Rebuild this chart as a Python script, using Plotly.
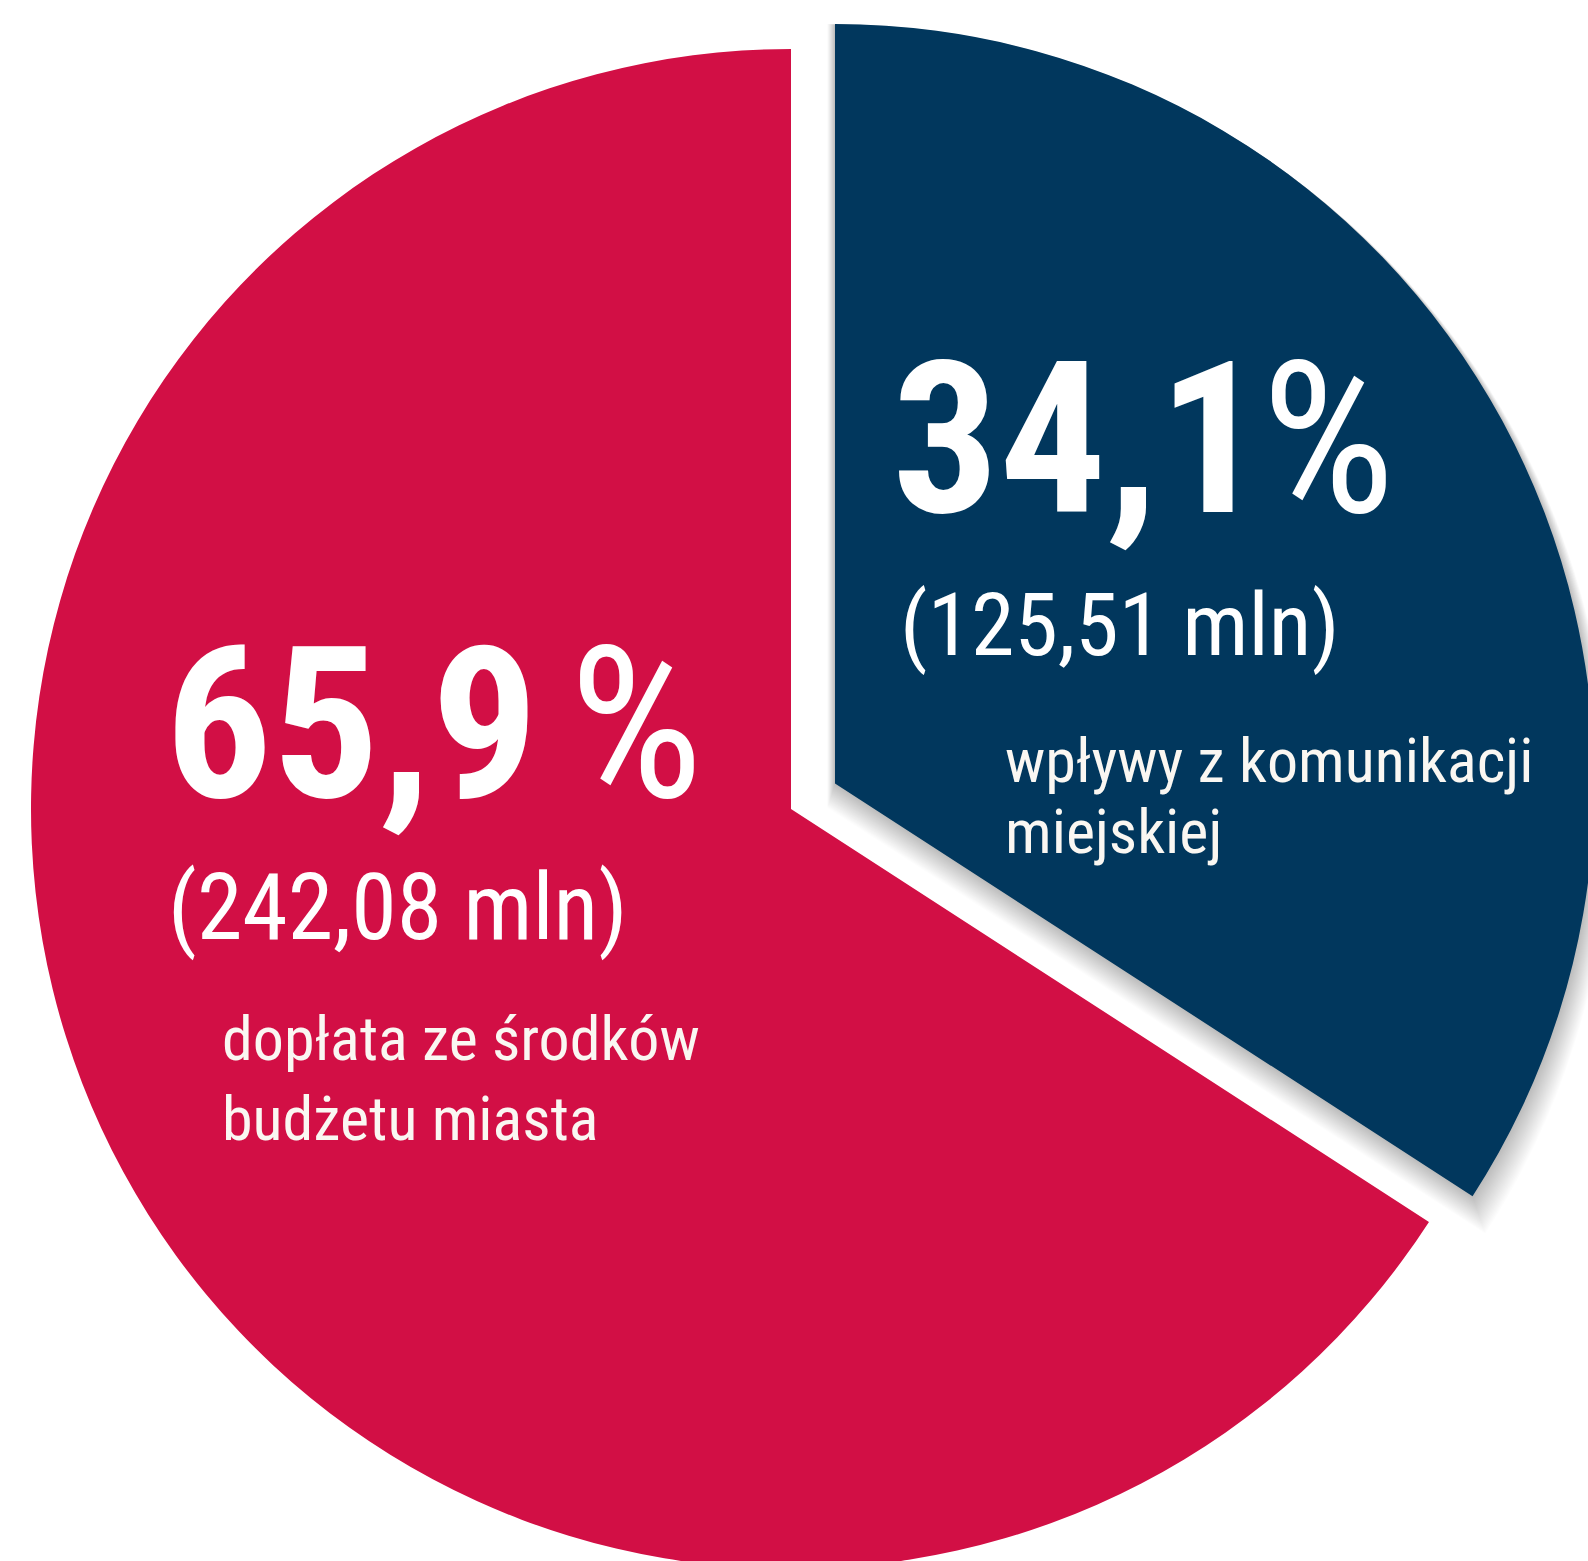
import plotly.graph_objects as go

# ---------------- data ----------------
categories = ["wpływy z komunikacji miejskiej", "dopłata ze środków budżetu miasta"]
values_mln = [125.51, 242.08]
pct_labels = ["34,1", "65,9"]
amount_labels = ["(125,51 mln)", "(242,08 mln)"]
desc_lines = [["wpływy z komunikacji", "miejskiej"], ["dopłata ze środków", "budżetu miasta"]]

# ---------------- styling / layout ----------------
NAVY = "#01375D"
RED = "#D20F45"
CLEAR = "rgba(0,0,0,0)"
TEXT_W = "#FFFFFF"
TEXT_S = "#FAF7F2"
FONT = "Roboto Condensed, Liberation Sans Narrow, DejaVu Sans Condensed, Roboto, sans-serif"

W, H = 1650, 1620          # figure canvas (page crops it to the window)
R = 760                    # pie radius in px
RED_C = (791, 809)         # centre of the main pie
NAVY_C = (835, 783.5)      # centre of the pulled-out slice


def dom(cx, cy, r):
    return dict(x=[(cx - r) / W, (cx + r) / W],
                y=[1 - (cy + r) / H, 1 - (cy - r) / H])


def pie(colors, cx, cy, r):
    return go.Pie(labels=categories, values=values_mln, sort=False,
                  direction="clockwise", rotation=0, textinfo="none",
                  hoverinfo="skip", showlegend=False,
                  marker=dict(colors=colors, line=dict(width=0)),
                  domain=dom(cx, cy, r))


fig = go.Figure()

# soft shadow behind the pulled-out slice
for k in range(1, 23):
    fig.add_trace(pie(["rgba(0,0,0,0.010)", CLEAR],
                      NAVY_C[0] - 0.35 * k, NAVY_C[1] + 1.1 * k, R - 0.5 + 1.1 * k))

fig.add_trace(pie([CLEAR, RED], RED_C[0], RED_C[1], R))
fig.add_trace(pie([NAVY, CLEAR], NAVY_C[0], NAVY_C[1], R - 0.5))


def px(x):
    return x / W


def py(y):
    return 1 - y / H


def text(s, x, baseline, size, weight=400, color=TEXT_W, anchor="left"):
    cy = baseline - 0.3415 * size
    fig.add_annotation(text=s, x=px(x), y=py(cy), xref="paper", yref="paper",
                       xanchor=anchor, yanchor="middle", showarrow=False,
                       font=dict(family=FONT, size=size, color=color, weight=weight))


BIG = 212
MID = [88, 92]       # navy, red
SMALL = 62
# label positions (px): [navy, red]
pct_pos = [(890, 512), (163, 797)]
pct_right = [1397, 705]
amt_pos = [(898, 655), (166, 939)]
desc_pos = [(1003, [782, 853]), (220, [1060, 1140])]

for i in range(2):
    text(pct_labels[i], pct_pos[i][0], pct_pos[i][1], BIG, weight=700)
    text("%", pct_right[i], pct_pos[i][1], BIG, weight=400, anchor="right")
    text(amount_labels[i], amt_pos[i][0], amt_pos[i][1], MID[i])
    for line, b in zip(desc_lines[i], desc_pos[i][1]):
        text(line, desc_pos[i][0], b, SMALL, color=TEXT_S)

fig.update_layout(width=W, height=H, margin=dict(l=0, r=0, t=0, b=0),
                  paper_bgcolor="white", plot_bgcolor="white")

post = ("var gd=document.getElementById('{plot_id}');"
        "document.documentElement.style.overflow='hidden';"
        "document.body.style.margin='0';document.body.style.overflow='hidden';"
        "var p=gd.parentElement;p.style.width='1588px';p.style.height='1561px';"
        "p.style.overflow='hidden';")

fig.write_html("out.html", config={"displayModeBar": False}, post_script=post)
